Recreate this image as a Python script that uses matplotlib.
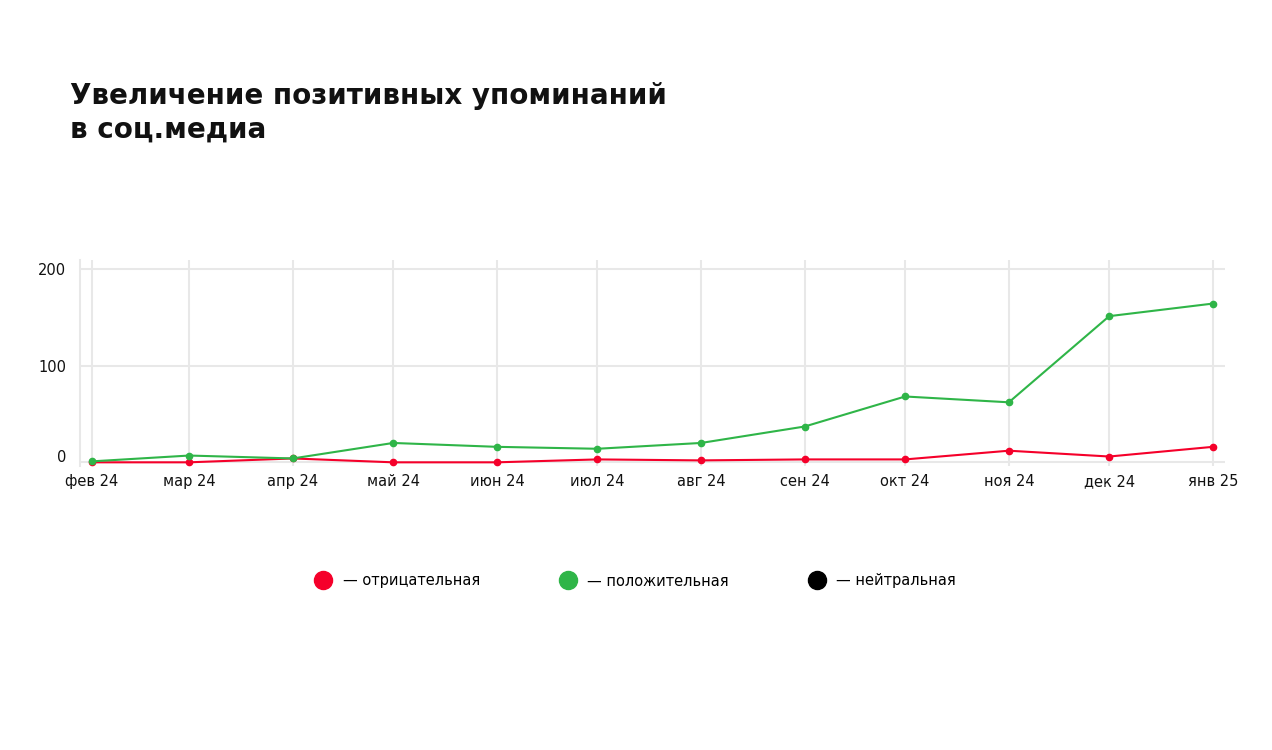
import datetime as dt

import matplotlib
matplotlib.use("Agg")
import matplotlib.pyplot as plt
import matplotlib.transforms as mtransforms
from matplotlib.lines import Line2D

# Data
months = [dt.datetime(2024, m, 1) for m in range(2, 13)] + [dt.datetime(2025, 1, 1)]
month_labels = ["фев 24", "мар 24", "апр 24", "май 24", "июн 24", "июл 24",
                "авг 24", "сен 24", "окт 24", "ноя 24", "дек 24", "янв 25"]
positive = [1, 7, 4, 20, 16, 14, 20, 37, 68, 62, 151, 164]
negative = [0, 0, 4, 0, 0, 3, 2, 3, 3, 12, 6, 16]
legend_labels = ["— отрицательная", "— положительная", "— нейтральная"]

RED = "#f5002a"
GREEN = "#2fb548"
GRID = "#e8e8e8"

W, H = 1272, 750
fig = plt.figure(figsize=(W / 100, H / 100), dpi=100)
plt.rcParams["font.family"] = ["DejaVu Sans"]

# axes box in pixels: left 80, right 1225, top 260, bottom 466
ax = fig.add_axes([80 / W, 1 - 466 / H, (1225 - 80) / W, (466 - 260) / H])

ax.plot(months, negative, color=RED, lw=1.5, marker="o", ms=4.5, zorder=3)
ax.plot(months, positive, color=GREEN, lw=1.5, marker="o", ms=4.5, zorder=4)

pad = dt.timedelta(days=3.6)
ax.set_xlim(months[0] - pad, months[-1] + pad)
ax.set_ylim(-3.8, 209)

ax.set_xticks(months)
ax.set_xticklabels(month_labels, fontsize=10.5, color="#111111")
ax.set_yticks([0, 100, 200])
ax.set_yticklabels(["0", "100", "200"], fontsize=10.5, color="#111111")
ax.tick_params(length=0)
ax.tick_params(axis="x", pad=6)
ax.tick_params(axis="y", pad=10)

# "0" label sits a bit above its gridline in the reference
zero_lbl = ax.get_yticklabels()[0]
zero_lbl.set_transform(zero_lbl.get_transform()
                       + mtransforms.ScaledTranslation(0, 6 / 100, fig.dpi_scale_trans))

ax.grid(True, color=GRID, lw=1.5)
ax.set_axisbelow(True)
for s in ["top", "right", "bottom"]:
    ax.spines[s].set_visible(False)
ax.spines["left"].set_color(GRID)
ax.spines["left"].set_linewidth(1.5)

fig.text(70 / W, 1 - 82 / H, "Увеличение позитивных упоминаний\nв соц.медиа",
         fontsize=20, fontweight="bold", va="top", ha="left", linespacing=1.25,
         color="#111111")

handles = [Line2D([], [], ls="", marker="o", ms=13, color=c) for c in [RED, GREEN, "#000000"]]
fig.legend(handles, legend_labels, loc="center", bbox_to_anchor=(0.5, 1 - 581 / H),
           ncol=3, frameon=False, fontsize=10.5, handletextpad=0.85,
           columnspacing=5.5, handlelength=1.0)

fig.savefig("out.png", dpi=100, facecolor="white")
